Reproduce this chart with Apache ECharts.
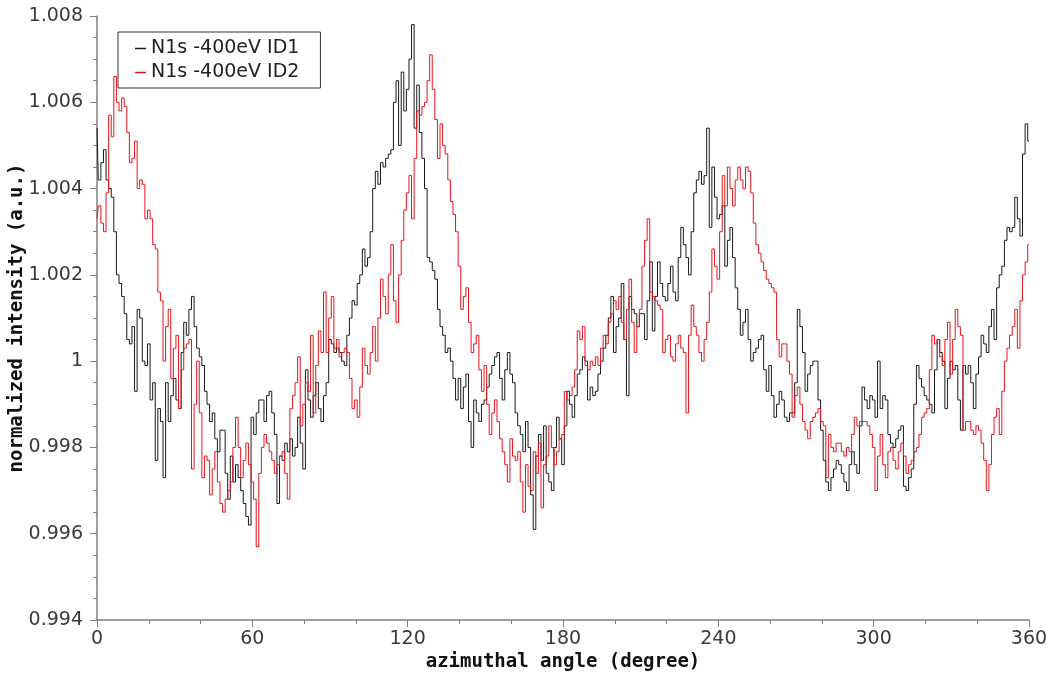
<!DOCTYPE html>
<html>
<head>
<meta charset="utf-8">
<script src="https://cdn.jsdelivr.net/npm/echarts@6/dist/echarts.min.js"></script>
<style>
  html, body { margin: 0; padding: 0; background: #fff; }
  #chart { width: 1050px; height: 677px; }
</style>
</head>
<body>
<div id="chart"></div>
<script>
// azimuthal angle grid, one sample per degree
const angles = Array.from({ length: 361 }, (_, i) => i);

const xTicks = [0, 60, 120, 180, 240, 300, 360];
const yTicks = [0.994, 0.996, 0.998, 1.000, 1.002, 1.004, 1.006, 1.008];

// N1s -400eV ID1 (black)
const id1 = [
  1.0054,1.0042,1.0046,1.0049,1.0042,1.004,1.0038,1.003,1.002,1.0018,
  1.0015,1.0011,1.0005,1.0004,1.0008,0.9993,1.0012,1.001,1,0.9999,
  1.0004,0.9991,0.9995,0.9977,0.9989,0.9986,0.9973,0.9995,0.9986,0.9992,
  0.9996,0.9991,0.9989,1.0002,1.0009,1.0006,1.0012,1.0015,1.0008,1.0003,
  1.0001,0.9999,0.9993,0.999,0.9986,0.9988,0.9982,0.9979,0.9984,0.9984,
  0.9974,0.9968,0.9978,0.9972,0.9976,0.9973,0.997,0.9967,0.9964,0.9962,
  0.9987,0.9983,0.9988,0.9991,0.9991,0.9986,0.9992,0.9993,0.9988,0.9983,
  0.9967,0.9978,0.9977,0.9981,0.9979,0.9982,0.9978,0.998,0.9987,0.9981,
  0.9975,0.9998,0.9991,0.9987,0.9992,0.9995,0.9989,0.9986,0.9992,0.9995,
  1.0005,1.0004,1.0002,1.0003,1.0002,1,0.9999,1.0006,1.001,1.0014,
  1.0013,1.0018,1.002,1.0026,1.0022,1.0024,1.003,1.004,1.0044,1.0041,
  1.0046,1.0045,1.0047,1.0048,1.0049,1.006,1.0065,1.005,1.0067,1.0058,
  1.0063,1.007,1.0078,1.0054,1.0064,1.0053,1.0047,1.004,1.0024,1.0023,
  1.0021,1.0019,1.0012,1.0008,1.0006,1.0002,1.0003,1,0.9996,0.9991,
  0.9996,0.9989,0.9994,0.9997,0.9986,0.998,0.9991,0.9988,0.9986,0.999,
  0.9991,0.9994,0.9997,0.9999,1.0001,1.0002,0.9996,0.9991,0.9998,1.0002,
  0.9997,0.9995,0.9988,0.9985,0.9983,0.9979,0.9986,0.998,0.9969,0.9961,
  0.9978,0.9983,0.9977,0.9985,0.9974,0.9972,0.997,0.998,0.9987,0.9982,
  0.9976,0.9985,0.9993,0.999,0.9987,0.9992,0.9997,0.9998,1.0001,1,
  0.9991,0.9994,0.9992,0.9993,0.9997,1,1.0003,1.0006,1.001,1.0015,
  1.0002,1.0008,1.001,1.0018,1.0005,0.9992,1.0015,1.0012,1.0011,1.0008,
  1.0011,1.0011,1.0005,1.0014,1.0023,1.0007,1.0015,1.0023,1.0018,1.0015,
  1.0014,1.0018,1.0022,1.0016,1.0014,1.0024,1.0031,1.0027,1.0024,1.002,
  1.003,1.0039,1.0042,1.0044,1.0041,1.0043,1.0054,1.0031,1.0045,1.0038,
  1.0033,1.0034,1.0036,1.0022,1.0028,1.0031,1.0024,1.0017,1.0012,1.0006,
  1.0009,1.0012,1.0005,1,1.0002,1.0003,1.0005,1.0006,0.9998,0.9993,
  0.9999,0.9992,0.9987,0.999,0.9993,0.9991,0.9987,0.9986,0.9988,0.9988,
  0.9995,1.0012,1.0008,1.0002,0.9993,0.9997,0.9999,1,1,0.9991,
  0.9984,0.9977,0.9972,0.997,0.9973,0.9975,0.9977,0.9976,0.9974,0.9972,
  0.997,0.9976,0.9979,0.9976,0.9974,0.9985,0.9994,0.9991,0.9989,0.9992,
  0.9991,0.9987,1,0.9989,0.9992,0.9991,0.9983,0.9981,0.998,0.9982,
  0.9984,0.9985,0.9971,0.997,0.9973,0.9975,0.999,0.9999,0.9996,0.9994,
  0.9992,0.9991,0.999,0.9988,0.9998,1.0005,1.0002,1,0.9989,0.9996,
  1,0.9998,0.9999,0.9991,0.9984,0.9999,0.9997,0.9999,0.9995,0.9989,
  0.9997,1.0001,1.0006,1.0004,1.0002,1.0008,1.0012,1.0005,1.0017,1.002,
  1.0022,1.0028,1.0031,1.003,1.0031,1.0038,1.0033,1.0029,1.0048,1.0055,1.0051
];

// N1s -400eV ID2 (red)
const id2 = [
  1.0033,1.0036,1.0032,1.003,1.0039,1.0057,1.0052,1.0066,1.006,1.0058,
  1.0061,1.0059,1.0053,1.0046,1.0047,1.0051,1.004,1.0042,1.0041,1.0033,
  1.0035,1.0033,1.0027,1.0026,1.0016,1.0014,1,1.0008,1.0012,0.9996,
  1.0003,1.0006,0.9989,0.9998,1.0003,1.0004,1.0005,0.9975,0.999,1,
  0.9988,0.9973,0.9978,0.9977,0.9969,0.9975,0.9979,0.9972,0.9967,0.9965,
  0.9968,0.997,0.9972,0.998,0.9987,0.998,0.9973,0.9977,0.9981,0.9976,
  0.9972,0.9968,0.9957,0.9974,0.998,0.9983,0.9981,0.9979,0.9977,0.9974,
  0.9976,0.9978,0.9979,0.9974,0.9968,0.9989,0.9992,0.9995,1.0001,0.9985,
  0.999,0.9995,0.9993,1.0006,0.9988,0.9999,1.0007,1.0002,1.0016,1.0002,
  1.001,1.0015,1.0003,1.0005,1.0001,1.0002,1.0003,1.0002,0.9996,0.9989,
  0.9991,0.9987,0.9994,1.0003,0.9999,0.9997,1.0002,1.0008,1,1.001,
  1.0019,1.0015,1.0011,1.002,1.0027,1.0014,1.0009,1.002,1.0028,1.0035,
  1.0039,1.0043,1.0033,1.0047,1.0058,1.0057,1.0059,1.006,1.0065,1.0071,
  1.0063,1.0056,1.0047,1.0055,1.005,1.0048,1.0042,1.0037,1.0034,1.003,
  1.0022,1.0012,1.0015,1.0017,1.0009,1.0002,1.0004,1.0006,0.9998,0.9993,
  0.9999,0.999,0.9983,0.9988,0.9991,0.9986,0.9982,0.9979,0.9976,0.9972,
  0.9982,0.9978,0.9977,0.9979,0.9972,0.9965,0.9976,0.9971,0.997,0.9979,
  0.9974,0.9981,0.9966,0.9976,0.9978,0.9985,0.998,0.9976,0.9979,0.9982,
  0.9983,0.9993,0.9991,0.9992,0.9994,0.9998,1.0007,1.0005,1.0008,0.9999,
  0.9998,1,0.9999,1.0001,0.9999,1.0003,1.0006,1.0004,1.0009,1.0011,
  1.0014,1.0012,1.0015,1.0009,1.0005,1.0012,1.0019,1.0009,1.0002,1.0008,
  1.0012,1.0022,1.0028,1.0033,1.0016,1.0015,1.0014,1.0013,1.0012,1.0002,
  1.0005,1.0006,1.0001,1,1.0004,1.0006,1.0003,1.0002,0.9988,1.0006,
  1.0013,1.0008,1.0006,1.0002,1,1.0005,1.0009,1.0016,1.0026,1.0022,
  1.0019,1.003,1.0043,1.0036,1.0045,1.004,1.0036,1.0042,1.0045,1.0042,
  1.004,1.0045,1.0044,1.0039,1.0032,1.0027,1.0025,1.0023,1.0021,1.0019,
  1.0018,1.0017,1.0016,1.0005,1.0001,1.0004,1.0004,1,0.9997,0.9987,
  0.9992,0.9994,0.999,0.9986,0.9984,0.9982,0.9986,0.9987,0.9988,0.9989,
  0.9986,0.9985,0.9973,0.9983,0.998,0.9979,0.9981,0.9981,0.9979,0.9978,
  0.998,0.9979,0.9983,0.9987,0.9985,0.9986,0.9986,0.9986,0.9985,0.9983,
  0.998,0.997,0.9978,0.9983,0.9976,0.9973,0.9979,0.998,0.9977,0.9975,
  0.9979,0.9981,0.9978,0.9974,0.9976,0.9977,0.9979,0.998,0.9983,0.9987,
  0.9988,0.9989,0.9998,1.0006,1.0004,1.0005,1.0001,0.9999,1.0005,1.0009,
  0.9997,1.0005,1.0012,1.0008,1.0006,0.9984,0.9986,0.9986,0.9984,0.9983,
  0.9985,0.9984,0.9981,0.9977,0.997,0.9976,0.9983,0.9987,0.9989,0.9983,
  0.9993,1,1.0003,1.0006,1.0008,1.0012,1.0003,1.0014,1.002,1.0023,1.0027
];

const seriesNames = ['N1s -400eV ID1', 'N1s -400eV ID2'];
const seriesColors = ['#1a1a1a', '#e8141c'];

const pairs = (ys) => angles.map((a, i) => [a, ys[i]]);

var myChart = echarts.init(document.getElementById('chart'));

const monoFont = '"DejaVu Sans Mono", "Liberation Mono", monospace';
const tickFont = '"DejaVu Sans", "Liberation Sans", sans-serif';

myChart.setOption({
    animation: false,
    backgroundColor: '#fff',
    grid: {
        left: 97, right: 21, top: 16, bottom: 57,
        containLabel: false,
        outerBoundsMode: 'none'
    },
    legend: {
        data: seriesNames,
        orient: 'vertical',
        left: 118,
        top: 32,
        padding: [7, 21, 6, 17],
        itemGap: 5,
        itemWidth: 11,
        itemHeight: 1.5,
        icon: 'rect',
        borderColor: '#333',
        borderWidth: 1,
        textStyle: { fontFamily: tickFont, fontSize: 19, color: '#222' }
    },
    xAxis: {
        type: 'value',
        min: xTicks[0],
        max: xTicks[xTicks.length - 1],
        interval: 60,
        name: 'azimuthal angle (degree)',
        nameLocation: 'middle',
        nameGap: 33,
        nameMoveOverlap: false,
        nameTextStyle: { fontFamily: monoFont, fontWeight: 'bold', fontSize: 19, color: '#111' },
        axisLine: { lineStyle: { color: '#808080', width: 1.5 } },
        axisTick: { length: 7, lineStyle: { color: '#808080' } },
        minorTick: { show: true, splitNumber: 3, length: 4, lineStyle: { color: '#808080' } },
        splitLine: { show: false },
        axisLabel: { fontFamily: tickFont, fontSize: 19, color: '#3a3a3a', margin: 10 }
    },
    yAxis: {
        type: 'value',
        min: yTicks[0],
        max: yTicks[yTicks.length - 1],
        interval: 0.002,
        name: 'normalized intensity (a.u.)',
        nameLocation: 'middle',
        nameGap: 70,
        nameMoveOverlap: false,
        nameTextStyle: { fontFamily: monoFont, fontWeight: 'bold', fontSize: 19, color: '#111' },
        axisLine: { show: true, lineStyle: { color: '#808080', width: 1.5 } },
        axisTick: { show: true, length: 7, lineStyle: { color: '#808080' } },
        minorTick: { show: true, splitNumber: 4, length: 4, lineStyle: { color: '#808080' } },
        splitLine: { show: false },
        axisLabel: {
            fontFamily: tickFont, fontSize: 19, color: '#3a3a3a', margin: 14,
            formatter: (v) => String(+v.toFixed(3))
        }
    },
    series: seriesNames.map((name, k) => ({
        name: name,
        type: 'line',
        step: 'middle',
        showSymbol: false,
        color: seriesColors[k],
        lineStyle: { width: 1, color: seriesColors[k] },
        data: pairs(k === 0 ? id1 : id2)
    }))
});
</script>
</body>
</html>
